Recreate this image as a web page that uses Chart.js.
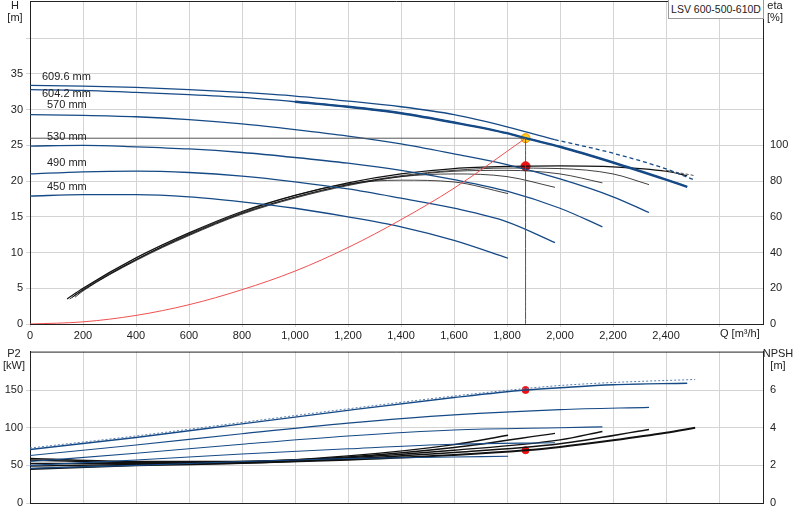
<!DOCTYPE html>
<html><head><meta charset="utf-8">
<script src="https://cdn.jsdelivr.net/npm/chart.js@4.4.1/dist/chart.umd.min.js"></script>
<style>
body{margin:0;background:#fff;font-family:Arial,"Liberation Sans",sans-serif;overflow:hidden}
#c1{position:absolute;left:0;top:-9px}
#c2{position:absolute;left:0;top:342px}
#tag{position:absolute;left:668px;top:0;width:94px;height:18px;border:1px solid #999;border-top:none;font-size:10.5px;line-height:18px;text-align:center;color:#222;background:#fff;white-space:nowrap}
</style></head><body>
<div style="position:relative;width:800px;height:520px;overflow:hidden">
<canvas id="c1" width="800" height="351"></canvas>
<canvas id="c2" width="800" height="178"></canvas>
<div id="tag">LSV 600-500-610D</div>
</div>
<script>
// ---- Q-H curves ----
const qh609Q=[0,200,400,600,800,1000,1200,1400,1600,1800,1980];
const qh609H=[33.4,33.3,33.1,32.8,32.4,31.9,31.2,30.4,29.3,27.6,25.8];
const qh609dQ=[1980,2200,2400,2510];
const qh609dH=[25.8,23.9,21.7,20.1];
const qh604Q=[0,200,400,600,800,1000,1200,1400,1600,1800,1870,2000,2200,2400,2480];
const qh604H=[32.8,32.7,32.4,32.1,31.7,31.1,30.4,29.5,28.2,26.7,26.0,24.8,22.6,20.2,19.2];
const qh570Q=[0,200,400,600,800,1000,1200,1400,1600,1800,2000,2200,2336];
const qh570H=[29.3,29.2,29.0,28.6,28.0,27.2,26.3,25.2,23.8,22.3,20.3,17.8,15.6];
const qh530Q=[0,200,400,600,800,1000,1200,1400,1600,1800,2000,2160];
const qh530H=[24.9,25.0,24.8,24.5,24.0,23.3,22.5,21.5,20.2,18.6,16.2,13.6];
const qh490Q=[0,200,400,600,800,1000,1200,1400,1600,1800,1981];
const qh490H=[21.0,21.3,21.4,21.2,20.7,19.9,18.9,17.6,16.2,14.3,11.4];
const qh450Q=[0,200,400,600,800,1000,1200,1400,1600,1804];
const qh450H=[17.9,18.1,18.1,17.8,17.1,16.2,15.0,13.6,11.7,9.2];
// ---- efficiency (%) ----
const etaMainQ=[140,200,400,600,800,1000,1200,1400,1600,1800,2000,2200,2400,2480];
const etaMain=[14,20,37,51,63,72,79,84,87,88.2,88.5,88,85.5,83];
const eta609Q=[2400,2510];const eta609=[86,83];
const eta570Q=[160,200,400,600,800,1000,1200,1400,1600,1800,2000,2200,2336];
const eta570=[15,19.5,36,50,62,71,78,83,86,87.3,87,84,78];
const eta530Q=[170,200,400,600,800,1000,1200,1400,1600,1800,2000,2160];
const eta530=[15,18.5,35.5,49.5,61.5,70.5,77.5,82.5,85.5,86,84,79];
const eta490Q=[150,200,400,600,800,1000,1200,1400,1600,1800,1981];
const eta490=[14,19,36,50,62,71,78,82.5,84,82.5,76.5];
const eta450Q=[160,200,400,600,800,1000,1200,1400,1600,1804];
const eta450=[15,19,36,50.5,62.5,72,78.5,80.5,79.5,73];
// ---- system curve & duty point ----
const sysQ=[0,200,400,600,800,1000,1200,1400,1600,1870];
const sysH=[0,0.3,1.2,2.7,4.8,7.4,10.7,14.6,19.0,26.0];
const dutyQ=1870, dutyH=26, dutyEta=88.3, dutyP2=150, dutyNPSH=2.8;
// ---- P2 (kW) ----
const p2_609Q=[0,400,800,1200,1600,1870,2000,2200,2510];
const p2_609=[73,89,107,125,142,152,156,160,164];
const p2_604Q=[0,400,800,1200,1600,1870,2000,2200,2480];
const p2_604=[71,87,105,123,140,150,153,157,159];
const p2_570Q=[0,400,800,1200,1600,2000,2336];
const p2_570=[63,77,92,106,117,124,127];
const p2_530Q=[0,400,800,1200,1600,2000,2160];
const p2_530=[55,66,78,89,97,100,101];
const p2_490Q=[0,400,800,1200,1600,1981];
const p2_490=[50,57,65,72,78,80];
const p2_450Q=[0,400,800,1200,1600,1804];
const p2_450=[46,50,55,59,61,62];
// ---- NPSH (m) ----
const np604Q=[0,400,800,1200,1600,1870,2000,2200,2400,2510];
const np604=[1.8,2.0,2.12,2.3,2.55,2.8,2.98,3.33,3.73,4.0];
const np570Q=[0,400,800,1200,1600,2000,2336];
const np570=[1.96,2.05,2.12,2.35,2.68,3.15,3.9];
const np530Q=[0,400,800,1200,1600,2000,2160];
const np530=[2.1,2.1,2.15,2.4,2.8,3.35,3.8];
const np490Q=[0,400,800,1200,1600,1981];
const np490=[2.28,2.15,2.2,2.45,2.95,3.7];
const np450Q=[0,400,800,1200,1600,1804];
const np450=[2.36,2.2,2.2,2.5,3.1,3.6];
// ---- axes ----
const qTicks=[0,200,400,600,800,1000,1200,1400,1600,1800,2000,2200,2400];
const hTicks=[0,5,10,15,20,25,30,35,40];
const etaTicks=[0,20,40,60,80,100];
const p2Ticks=[0,50,100,150];
const npTicks=[0,2,4,6];
const diaLabels=['609.6 mm','604.2 mm','570 mm','530 mm','490 mm','450 mm'];

const BLUE='#164a86', BLK='#111';
const zip=(a,b)=>a.map((v,i)=>({x:v,y:b[i]}));
function ds(q,v,axis,color,w,dash){return{data:zip(q,v),yAxisID:axis,borderColor:color,borderWidth:w||1.3,borderDash:dash||[],pointRadius:0,fill:false,tension:0.4,cubicInterpolationMode:'monotone'};}
const FONT={family:'Arial, "Liberation Sans", sans-serif',size:11};
const gridC='#d4d4d4';
function xScale(labels,h){return{type:'linear',min:0,max:2766,afterBuildTicks:s=>{s.ticks=qTicks.concat([2600]).map(v=>({value:v}));},
 ticks:{display:labels,font:FONT,color:'#222',maxRotation:0,padding:2,callback:v=>v>2400?'':v.toLocaleString('en-US')},
 grid:{color:gridC,lineWidth:1,drawTicks:labels,tickLength:3},border:{color:'#222'},afterFit:s=>{s.height=h;}};}
function yScale(pos,min,max,ticks,w,grid,lim){return{type:'linear',position:pos,min:min,max:max,afterBuildTicks:s=>{s.ticks=ticks.map(v=>({value:v}));},
 ticks:{font:FONT,color:'#222',padding:3,callback:v=>(lim!==undefined&&v>lim)?'':v},grid:{display:grid,color:gridC,lineWidth:1,drawTicks:true,tickLength:4},border:{color:'#222'},afterFit:s=>{s.width=w;}};}

const texts1={id:'t1',afterDraw(c){const x=c.ctx;x.save();x.font='11px Arial, "Liberation Sans", sans-serif';x.fillStyle='#222';
 x.textAlign='center';x.fillText('H',15,18);x.fillText('[m]',15,30);x.fillText('eta',775,18);x.fillText('[%]',775,30);
 x.textAlign='left';x.fillText('Q [m³/h]',720,346);
 const pos=[[42,89],[42,106],[47,117],[47,149],[47,175],[47,199]];
 diaLabels.forEach((t,i)=>x.fillText(t,pos[i][0],pos[i][1]));
 const a=c.chartArea;x.strokeStyle='#222';x.lineWidth=1;x.beginPath();x.moveTo(a.left,a.top+0.5);x.lineTo(a.right,a.top+0.5);x.stroke();x.restore();}};
const texts2={id:'t2',afterDraw(c){const x=c.ctx;x.save();x.font='11px Arial, "Liberation Sans", sans-serif';x.fillStyle='#222';
 x.textAlign='center';x.fillText('P2',14,15);x.fillText('[kW]',14,27);x.fillText('NPSH',778,15);x.fillText('[m]',778,27);
 const a=c.chartArea;x.strokeStyle='#222';x.lineWidth=1;x.beginPath();x.moveTo(a.left,a.top+0.5);x.lineTo(a.right,a.top+0.5);x.stroke();x.restore();}};

new Chart(document.getElementById('c1'),{type:'line',
 data:{datasets:[
  ds([0,dutyQ],[dutyH,dutyH],'y','#555',1),
  ds([dutyQ,dutyQ],[dutyH,0],'y','#555',1),
  ds(sysQ,sysH,'y','#f05050',1),
  ds(qh609Q,qh609H,'y',BLUE,1.3),
  ds(qh609dQ,qh609dH,'y',BLUE,1.3,[4,3]),
  ds(qh604Q,qh604H,'y',BLUE,1.3),
  ds(qh604Q.slice(5),qh604H.slice(5),'y',BLUE,2.4),
  ds(qh570Q,qh570H,'y',BLUE),ds(qh530Q,qh530H,'y',BLUE),ds(qh490Q,qh490H,'y',BLUE),ds(qh450Q,qh450H,'y',BLUE),
  ds(etaMainQ,etaMain,'eta',BLK,1.2),
  ds(eta609Q,eta609,'eta','#555',1,[3,2]),
  ds(eta570Q,eta570,'eta',BLK,0.8),ds(eta530Q,eta530,'eta',BLK,0.8),ds(eta490Q,eta490,'eta',BLK,0.8),ds(eta450Q,eta450,'eta',BLK,0.8),
  {type:'scatter',data:[{x:dutyQ,y:dutyH}],yAxisID:'y',pointRadius:4.5,pointBackgroundColor:'#ffd21f',pointBorderColor:'#f08a00',borderWidth:1},
  {type:'scatter',data:[{x:dutyQ,y:dutyEta}],yAxisID:'eta',pointRadius:4.5,pointBackgroundColor:'#ee1111',pointBorderColor:'#ee1111'}
 ]},
 options:{responsive:false,animation:false,layout:{padding:{top:10,left:0,right:0,bottom:0}},
  plugins:{legend:{display:false},tooltip:{enabled:false}},
  scales:{x:xScale(true,18),y:yScale('left',0,45.2,hTicks,30,true,35),eta:yScale('right',0,180.8,etaTicks,37,false)}},
 plugins:[texts1]});

new Chart(document.getElementById('c2'),{type:'line',
 data:{datasets:[
  ds(p2_609Q,p2_609,'y','#5a7fb0',1,[2,2]),
  ds(p2_604Q,p2_604,'y',BLUE,1.4),
  ds(p2_570Q,p2_570,'y',BLUE,1.1),ds(p2_530Q,p2_530,'y',BLUE,1.1),ds(p2_490Q,p2_490,'y',BLUE,1.1),ds(p2_450Q,p2_450,'y',BLUE,1.1),
  ds(np604Q,np604,'np',BLK,2),ds(np570Q,np570,'np',BLK,1.4),ds(np530Q,np530,'np',BLK,1.4),ds(np490Q,np490,'np',BLK,1.4),ds(np450Q,np450,'np',BLK,1.4),
  {type:'scatter',data:[{x:dutyQ,y:dutyP2}],yAxisID:'y',pointRadius:3.5,pointBackgroundColor:'#ee1111',pointBorderColor:'#ee1111'},
  {type:'scatter',data:[{x:dutyQ,y:dutyNPSH}],yAxisID:'np',pointRadius:3.5,pointBackgroundColor:'#ee1111',pointBorderColor:'#ee1111'}
 ]},
 options:{responsive:false,animation:false,layout:{padding:{top:8,left:0,right:0,bottom:0}},
  plugins:{legend:{display:false},tooltip:{enabled:false}},
  scales:{x:xScale(false,17),y:yScale('left',0,201,p2Ticks,30,true),np:yScale('right',0,8.04,npTicks,37,false)}},
 plugins:[texts2]});
</script>
</body></html>
